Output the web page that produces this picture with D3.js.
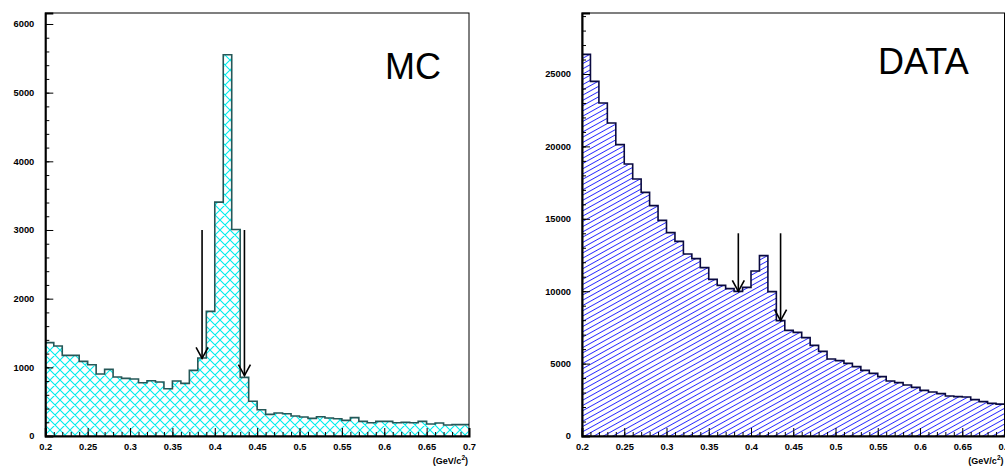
<!DOCTYPE html>
<html><head><meta charset="utf-8">
<script src="https://cdn.jsdelivr.net/npm/d3@7"></script>
<style>
body{margin:0;background:#fff;}
svg{display:block;font-family:"Liberation Sans",Arial,sans-serif;}
.tick text{font-weight:bold;font-size:9.3px;fill:#000;}
</style></head>
<body>
<svg id="c" width="1005" height="466"></svg>
<script>
// Bin edges: 50 bins of 0.01 from 0.2 to 0.7
const binLow = d3.range(50).map(i => +(0.2 + i*0.01).toFixed(2));
const mcValues = [1360,1310,1174,1174,1087,1038,902,970,859,839,
  830,776,805,786,689,800,767,956,1135,1815,
  3406,5551,3008,854,505,383,315,335,325,291,
  277,257,281,262,252,228,267,213,194,213,
  213,194,199,194,213,175,189,160,165,165];
const dataValues = [26358,24494,22997,21616,20120,18785,17749,16828,15907,14894,
  14042,13444,12569,12247,11625,10820,10405,10175,9991,10267,
  11395,12454,9968,7965,7297,7159,6791,6262,5847,5318,
  5203,5018,4788,4535,4328,4098,3798,3683,3522,3361,
  3154,3039,2924,2762,2716,2693,2509,2371,2256,2200];
const xTicks = [0.2,0.25,0.3,0.35,0.4,0.45,0.5,0.55,0.6,0.65,0.7];
const mcYTicks = [0,1000,2000,3000,4000,5000,6000];
const dataYTicks = [0,5000,10000,15000,20000,25000];
const mcArrows = [{x:0.385, from:3000, to:1130},{x:0.435, from:3000, to:880}];
const dataArrows = [{x:0.385, from:14000, to:9990},{x:0.435, from:14000, to:7970}];
const labels = ["MC","DATA"];

const svg = d3.select("#c");
const defs = svg.append("defs");
// cross hatch (MC)
const P = 10;
const p1 = defs.append("pattern").attr("id","cross").attr("patternUnits","userSpaceOnUse")
  .attr("width",P).attr("height",P);
p1.append("path").attr("d",`M0,0L${P},${P}M${P},0L0,${P}M-1,${P-1}L1,${P+1}M${P-1},-1L${P+1},1M-1,1L1,-1M${P-1},${P+1}L${P+1},${P-1}`)
  .attr("stroke","#00eeee").attr("stroke-width",1.1).attr("fill","none");
// single hatch (DATA)
const p2 = defs.append("pattern").attr("id","hatch").attr("patternUnits","userSpaceOnUse")
  .attr("width",10).attr("height",4.6).attr("patternTransform","rotate(-29)");
p2.append("line").attr("x1",-1).attr("x2",11).attr("y1",2.3).attr("y2",2.3)
  .attr("stroke","#2b2bff").attr("stroke-width",1.0).attr("shape-rendering","crispEdges");

function panel(cfg){
  const g = svg.append("g");
  const x = d3.scaleLinear().domain([0.2,0.7]).range([cfg.x0,cfg.x1]);
  const y = d3.scaleLinear().domain([0,cfg.ymax]).range([436,13]);
  const pts = cfg.values.map((v,i)=>[binLow[i],v]);
  pts.push([0.7, cfg.values[cfg.values.length-1]]);
  const area = d3.area().x(d=>x(d[0])).y0(y(0)).y1(d=>y(d[1])).curve(d3.curveStepAfter);
  const line = d3.line().x(d=>x(d[0])).y(d=>y(d[1])).curve(d3.curveStepAfter);
  g.append("path").attr("d",area(pts)).attr("fill","#fff");
  g.append("path").attr("d",area(pts)).attr("fill",`url(#${cfg.pattern})`);
  g.append("path").attr("d",line(pts)).attr("fill","none").attr("stroke",cfg.outline).attr("stroke-width",1.6);
  // frame
  g.append("rect").attr("x",cfg.x0).attr("y",13).attr("width",cfg.x1-cfg.x0).attr("height",423)
    .attr("fill","none").attr("stroke","#000").attr("stroke-width",1);
  // minor ticks
  const minorX = d3.range(0.2,0.7001,0.01);
  g.append("g").attr("transform","translate(0,436)")
    .call(d3.axisBottom(x).tickValues(minorX).tickSize(-4).tickFormat(""))
    .call(a=>a.select(".domain").remove());
  g.append("g").attr("transform",`translate(${cfg.x0},0)`)
    .call(d3.axisLeft(y).tickValues(d3.range(0,cfg.ymax,cfg.minorY)).tickSize(-4).tickFormat(""))
    .call(a=>a.select(".domain").remove());
  // major ticks
  const ax = g.append("g").attr("transform","translate(0,436)")
    .call(d3.axisBottom(x).tickValues(xTicks).tickSize(-8).tickPadding(7).tickFormat(d=>String(d)));
  ax.select(".domain").attr("stroke-width",2);
  const ay = g.append("g").attr("transform",`translate(${cfg.x0},0)`)
    .call(d3.axisLeft(y).tickValues(cfg.yTicks).tickSize(-8).tickPadding(11).tickFormat(d3.format("d")));
  ay.select(".domain").attr("stroke-width",2);
  g.selectAll(".tick line").attr("stroke","#000");
  // arrows
  cfg.arrows.forEach(a=>{
    const ax0 = x(a.x), yt = y(a.from), yb = y(a.to);
    g.append("line").attr("x1",ax0).attr("x2",ax0).attr("y1",yt).attr("y2",yb)
      .attr("stroke","#000").attr("stroke-width",1.6);
    g.append("path").attr("d",`M${ax0-6},${yb-11}L${ax0},${yb}L${ax0+6},${yb-11}`)
      .attr("fill","none").attr("stroke","#000").attr("stroke-width",1.6);
  });
  // unit label
  const t = g.append("text").attr("x",cfg.x1-1).attr("y",464).attr("text-anchor","end")
    .attr("font-size",9).attr("font-weight","bold");
  t.append("tspan").text("(GeV/c");
  t.append("tspan").attr("dy",-4).attr("font-size",6.5).text("2");
  t.append("tspan").attr("dy",4).text(")");
  // big label
  g.append("text").attr("x",cfg.lx).attr("y",cfg.ly).attr("font-size",36).text(cfg.label);
}

panel({x0:45.3,x1:469,ymax:6160,values:mcValues,pattern:"cross",outline:"#265858",
  yTicks:mcYTicks,minorY:200,arrows:mcArrows,label:labels[0],lx:385,ly:79});
panel({x0:582,x1:1004.5,ymax:29213,values:dataValues,pattern:"hatch",outline:"#0a0a40",
  yTicks:dataYTicks,minorY:1000,arrows:dataArrows,label:labels[1],lx:878,ly:74});
</script>
</body></html>
